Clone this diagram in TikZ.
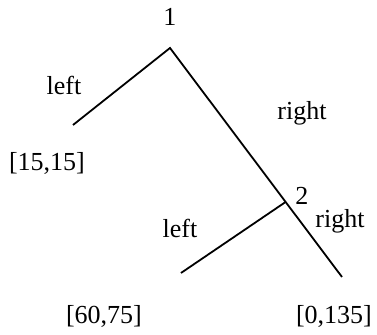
\documentclass[tikz,border=0pt]{standalone}
\usepackage{fontspec}
\setmainfont{Liberation Serif}
\begin{document}
\begin{tikzpicture}[x=0.5pt,y=-0.5pt,
  lbl/.style={inner sep=0pt,anchor=center,font=\fontsize{13}{15}\selectfont},
  branch/.style={line width=0.9pt,line cap=butt}]
\useasboundingbox (0,0) rectangle (377,335);
% tree points
\coordinate (A) at (170,48);
\coordinate (L1) at (73,125);
\coordinate (B) at (285.6,202);
\coordinate (R) at (342,277);
\coordinate (L2) at (181,273);
% labels
\node[lbl] (n1) at (170,17) {1};
\node[lbl] (n2) at (302,196) {2};
\node[lbl] (leftA) at (64,85) {left};
\node[lbl] (rightA) at (302,113) {right};
\node[lbl] (leafA) at (47,163) {[15,15]};
\node[lbl] (leftB) at (180,228) {left};
\node[lbl] (rightB) at (340,221) {right};
\node[lbl] (leafB) at (104,316) {[60,75]};
\node[lbl] (leafC) at (334,316) {[0,135]};
% branches
\draw[branch] (L1) -- (A) -- (R);
\draw[branch] (B) -- (L2);
\end{tikzpicture}
\end{document}
